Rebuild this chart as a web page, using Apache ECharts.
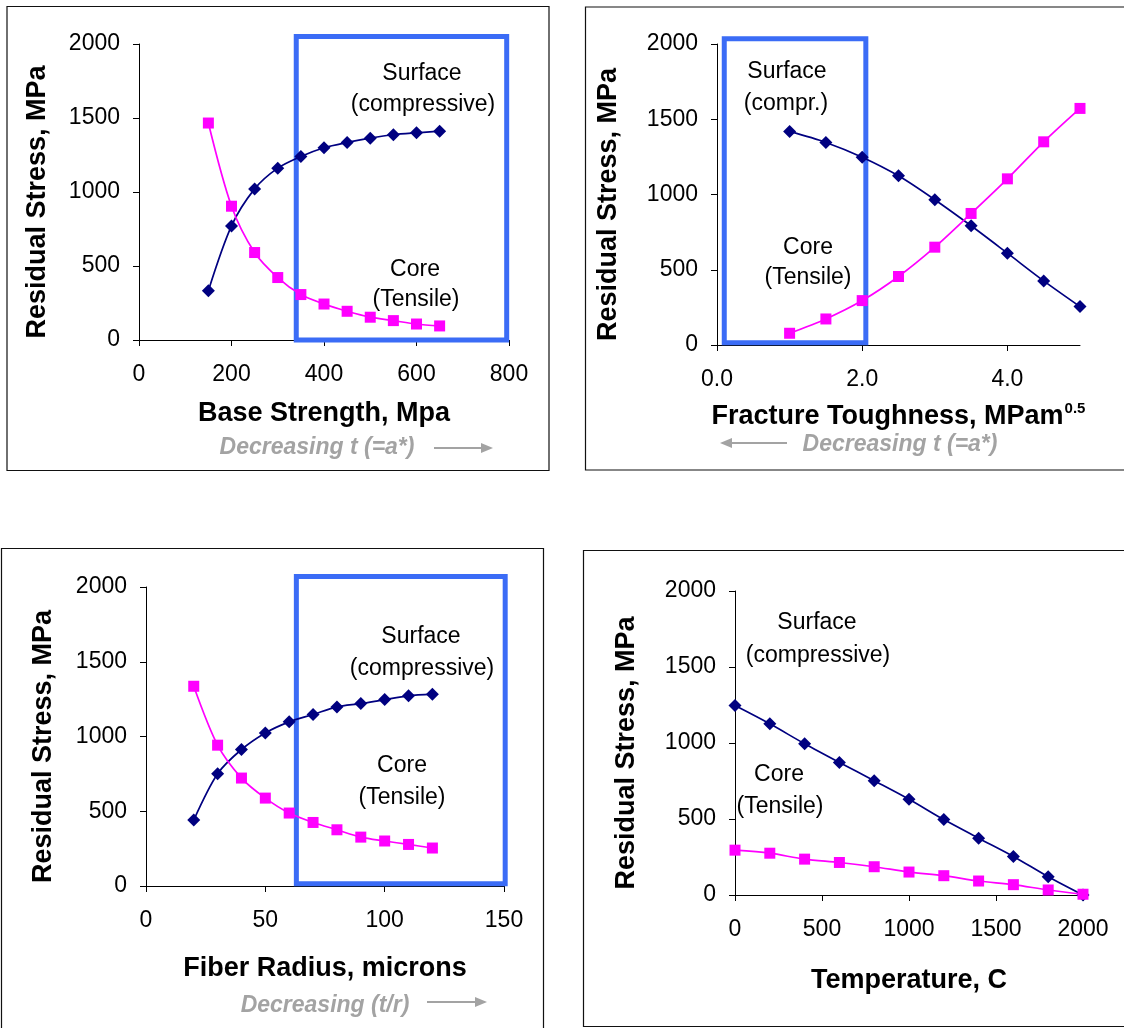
<!DOCTYPE html>
<html>
<head>
<meta charset="utf-8">
<script src="https://cdn.jsdelivr.net/npm/echarts@6/dist/echarts.min.js"></script>
<style>
  html, body { margin: 0; padding: 0; background: #fff; }
  #chart { width: 1124px; height: 1028px; }
</style>
</head>
<body>
<div id="chart"></div>
<script>
// Residual stress (MPa) at the surface and in the core, four parameter studies.
const stressTicks = [0, 500, 1000, 1500, 2000];

// Base strength, MPa
const strengthX = [150, 200, 250, 300, 350, 400, 450, 500, 550, 600, 650];
const strengthSurface = [333, 771, 1021, 1161, 1240, 1299, 1335, 1364, 1387, 1400, 1411];
const strengthCore = [1466, 904, 591, 422, 307, 243, 194, 154, 131, 108, 95];
const strengthTicks = [0, 200, 400, 600, 800];
const strengthBox = [340, 0, 795, 2050];

// Fracture toughness, MPa·m^0.5
const toughnessX = [1.0, 1.5, 2.0, 2.5, 3.0, 3.5, 4.0, 4.5, 5.0];
const toughnessSurface = [1419, 1346, 1248, 1124, 965, 792, 610, 426, 255];
const toughnessCore = [78, 173, 295, 455, 650, 874, 1104, 1350, 1572];
const toughnessTicks = [0, 2, 4];
const toughnessMax = 5;
const toughnessBox = [0.1, 15, 2.05, 2035];

// Fiber radius, microns
const radiusX = [20, 30, 40, 50, 60, 70, 80, 90, 100, 110, 120];
const radiusSurface = [441, 751, 913, 1024, 1098, 1147, 1198, 1220, 1247, 1272, 1283];
const radiusCore = [1336, 942, 722, 588, 488, 425, 376, 327, 301, 278, 254];
const radiusTicks = [0, 50, 100, 150];
const radiusBox = [63, 15, 150.5, 2070];

// Temperature, C
const temperatureX = [0, 200, 400, 600, 800, 1000, 1200, 1400, 1600, 1800, 2000];
const temperatureSurface = [1246, 1126, 995, 872, 752, 630, 496, 374, 254, 120, 0];
const temperatureCore = [295, 275, 236, 214, 186, 151, 127, 92, 68, 33, 5];
const temperatureTicks = [0, 500, 1000, 1500, 2000];

const FONT = '"Liberation Sans", Arial, sans-serif';
const NAVY = '#000080';
const MAGENTA = '#ff00ff';
const BOX_BLUE = '#3b6cf6';
const GREY = '#a3a3a3';

const zip = (xs, ys) => xs.map((x, i) => [x, ys[i]]);
const plain = v => String(v);

const grids = [
  { left: 139, top: 44, width: 370, height: 296 },
  { left: 717, top: 44, width: 363, height: 301 },
  { left: 146, top: 587, width: 358, height: 299 },
  { left: 735, top: 591, width: 348, height: 304 }
].map(g => Object.assign({ containLabel: false, outerBoundsMode: 'none' }, g));

const axisLine = { show: true, onZero: false, lineStyle: { color: '#000', width: 1 } };
const axisTick = { show: true, inside: false, length: 6, lineStyle: { color: '#000', width: 1 } };
const tickFont = { color: '#000', fontFamily: FONT, fontSize: 23 };
const nameFont = { color: '#000', fontFamily: FONT, fontSize: 27, fontWeight: 'bold' };

function xAxis(gridIndex, ticks, name, nameGap, extra) {
  return Object.assign({
    type: 'value', gridIndex,
    min: ticks[0], max: ticks[ticks.length - 1], interval: ticks[1] - ticks[0],
    name, nameLocation: 'middle', nameGap, nameTextStyle: nameFont,
    axisLine, axisTick,
    axisLabel: Object.assign({ margin: 23, formatter: plain }, tickFont),
    splitLine: { show: false }
  }, extra || {});
}

function yAxis(gridIndex, nameGap) {
  return {
    type: 'value', gridIndex,
    min: stressTicks[0], max: stressTicks[stressTicks.length - 1],
    interval: stressTicks[1] - stressTicks[0],
    name: 'Residual Stress, MPa', nameLocation: 'middle', nameGap,
    nameTextStyle: Object.assign({ padding: [0, 20, 0, 0] }, nameFont),
    axisLine, axisTick,
    axisLabel: Object.assign({ margin: 19, formatter: plain }, tickFont),
    splitLine: { show: false }
  };
}

function surfaceSeries(idx, xs, ys) {
  return {
    type: 'line', xAxisIndex: idx, yAxisIndex: idx,
    data: zip(xs, ys), smooth: 0.3,
    symbol: 'diamond', symbolSize: 13,
    lineStyle: { color: NAVY, width: 1.7 },
    itemStyle: { color: NAVY },
    z: 3
  };
}

function coreSeries(idx, xs, ys) {
  return {
    type: 'line', xAxisIndex: idx, yAxisIndex: idx,
    data: zip(xs, ys), smooth: 0.3,
    symbol: 'rect', symbolSize: 11,
    lineStyle: { color: MAGENTA, width: 1.7 },
    itemStyle: { color: MAGENTA },
    z: 4
  };
}

// Outlined region drawn in data space: [x0, y0, x1, y1]
function boxSeries(idx, box) {
  return {
    type: 'custom', xAxisIndex: idx, yAxisIndex: idx,
    data: [box], clip: false, silent: true, z: 2,
    renderItem(params, api) {
      const p0 = api.coord([api.value(0), api.value(1)]);
      const p1 = api.coord([api.value(2), api.value(3)]);
      return {
        type: 'rect',
        shape: {
          x: Math.min(p0[0], p1[0]), y: Math.min(p0[1], p1[1]),
          width: Math.abs(p1[0] - p0[0]), height: Math.abs(p1[1] - p0[1])
        },
        style: { fill: 'none', stroke: BOX_BLUE, lineWidth: 5 }
      };
    }
  };
}

function note(x, y, text) {
  return {
    type: 'text', x, y, z: 10,
    style: { text, fill: '#000', font: '23px ' + FONT, textAlign: 'center', textVerticalAlign: 'middle' }
  };
}

function hint(x, y, text) {
  return {
    type: 'text', x, y, z: 10,
    style: { text, fill: GREY, font: 'italic bold 23px ' + FONT, textAlign: 'center', textVerticalAlign: 'middle' }
  };
}

function arrow(x0, x1, y) {
  const dir = x1 > x0 ? 1 : -1;
  return [
    { type: 'line', z: 10, shape: { x1: x0, y1: y, x2: x1 - dir * 8, y2: y }, style: { stroke: GREY, lineWidth: 2 } },
    { type: 'polygon', z: 10, shape: { points: [[x1, y], [x1 - dir * 12, y - 5], [x1 - dir * 12, y + 5]] }, style: { fill: GREY } }
  ];
}

function frame(x, y, w, h) {
  return { type: 'rect', z: 0, shape: { x, y, width: w, height: h }, style: { fill: 'none', stroke: '#111', lineWidth: 1.2 } };
}

const chart = echarts.init(document.getElementById('chart'), null, { renderer: 'canvas' });

chart.setOption({
  backgroundColor: '#fff',
  animation: false,
  grid: grids,
  xAxis: [
    xAxis(0, strengthTicks, 'Base Strength, Mpa', 60),
    xAxis(1, toughnessTicks, 'Fracture Toughness, MPam{sup|0.5}', 56, {
      max: toughnessMax,
      axisLabel: Object.assign({ margin: 23, customValues: toughnessTicks, formatter: v => v.toFixed(1) }, tickFont),
      axisTick: Object.assign({ customValues: toughnessTicks }, axisTick),
      nameTextStyle: Object.assign({
        rich: {
          sup: { fontFamily: FONT, fontSize: 15, fontWeight: 'bold', color: '#000', padding: [0, 0, 16, 1] }
        }
      }, nameFont)
    }),
    xAxis(2, radiusTicks, 'Fiber Radius, microns', 69),
    xAxis(3, temperatureTicks, 'Temperature, C', 72)
  ],
  yAxis: [yAxis(0, 88), yAxis(1, 95), yAxis(2, 89), yAxis(3, 95)],
  series: [
    boxSeries(0, strengthBox),
    surfaceSeries(0, strengthX, strengthSurface),
    coreSeries(0, strengthX, strengthCore),
    boxSeries(1, toughnessBox),
    surfaceSeries(1, toughnessX, toughnessSurface),
    coreSeries(1, toughnessX, toughnessCore),
    boxSeries(2, radiusBox),
    surfaceSeries(2, radiusX, radiusSurface),
    coreSeries(2, radiusX, radiusCore),
    surfaceSeries(3, temperatureX, temperatureSurface),
    coreSeries(3, temperatureX, temperatureCore)
  ],
  graphic: [
    frame(7, 6.5, 542, 464),
    frame(585.5, 7, 600, 463),
    frame(1.5, 548.5, 542, 500),
    frame(583.5, 550.5, 600, 476),

    note(422, 74, 'Surface'),
    note(423, 105, '(compressive)'),
    note(415, 270, 'Core'),
    note(416, 300, '(Tensile)'),
    hint(317, 448, 'Decreasing t (=a*)'),
    ...arrow(434, 493, 448),

    note(787, 72, 'Surface'),
    note(786, 104, '(compr.)'),
    note(808, 248, 'Core'),
    note(808, 278, '(Tensile)'),
    hint(900, 445, 'Decreasing t (=a*)'),
    ...arrow(787, 720, 443),

    note(421, 637, 'Surface'),
    note(422, 669, '(compressive)'),
    note(402, 766, 'Core'),
    note(402, 798, '(Tensile)'),
    hint(325, 1006, 'Decreasing (t/r)'),
    ...arrow(427, 487, 1002),

    note(817, 623, 'Surface'),
    note(818, 656, '(compressive)'),
    note(779, 775, 'Core'),
    note(780, 807, '(Tensile)')
  ]
});
</script>
</body>
</html>
